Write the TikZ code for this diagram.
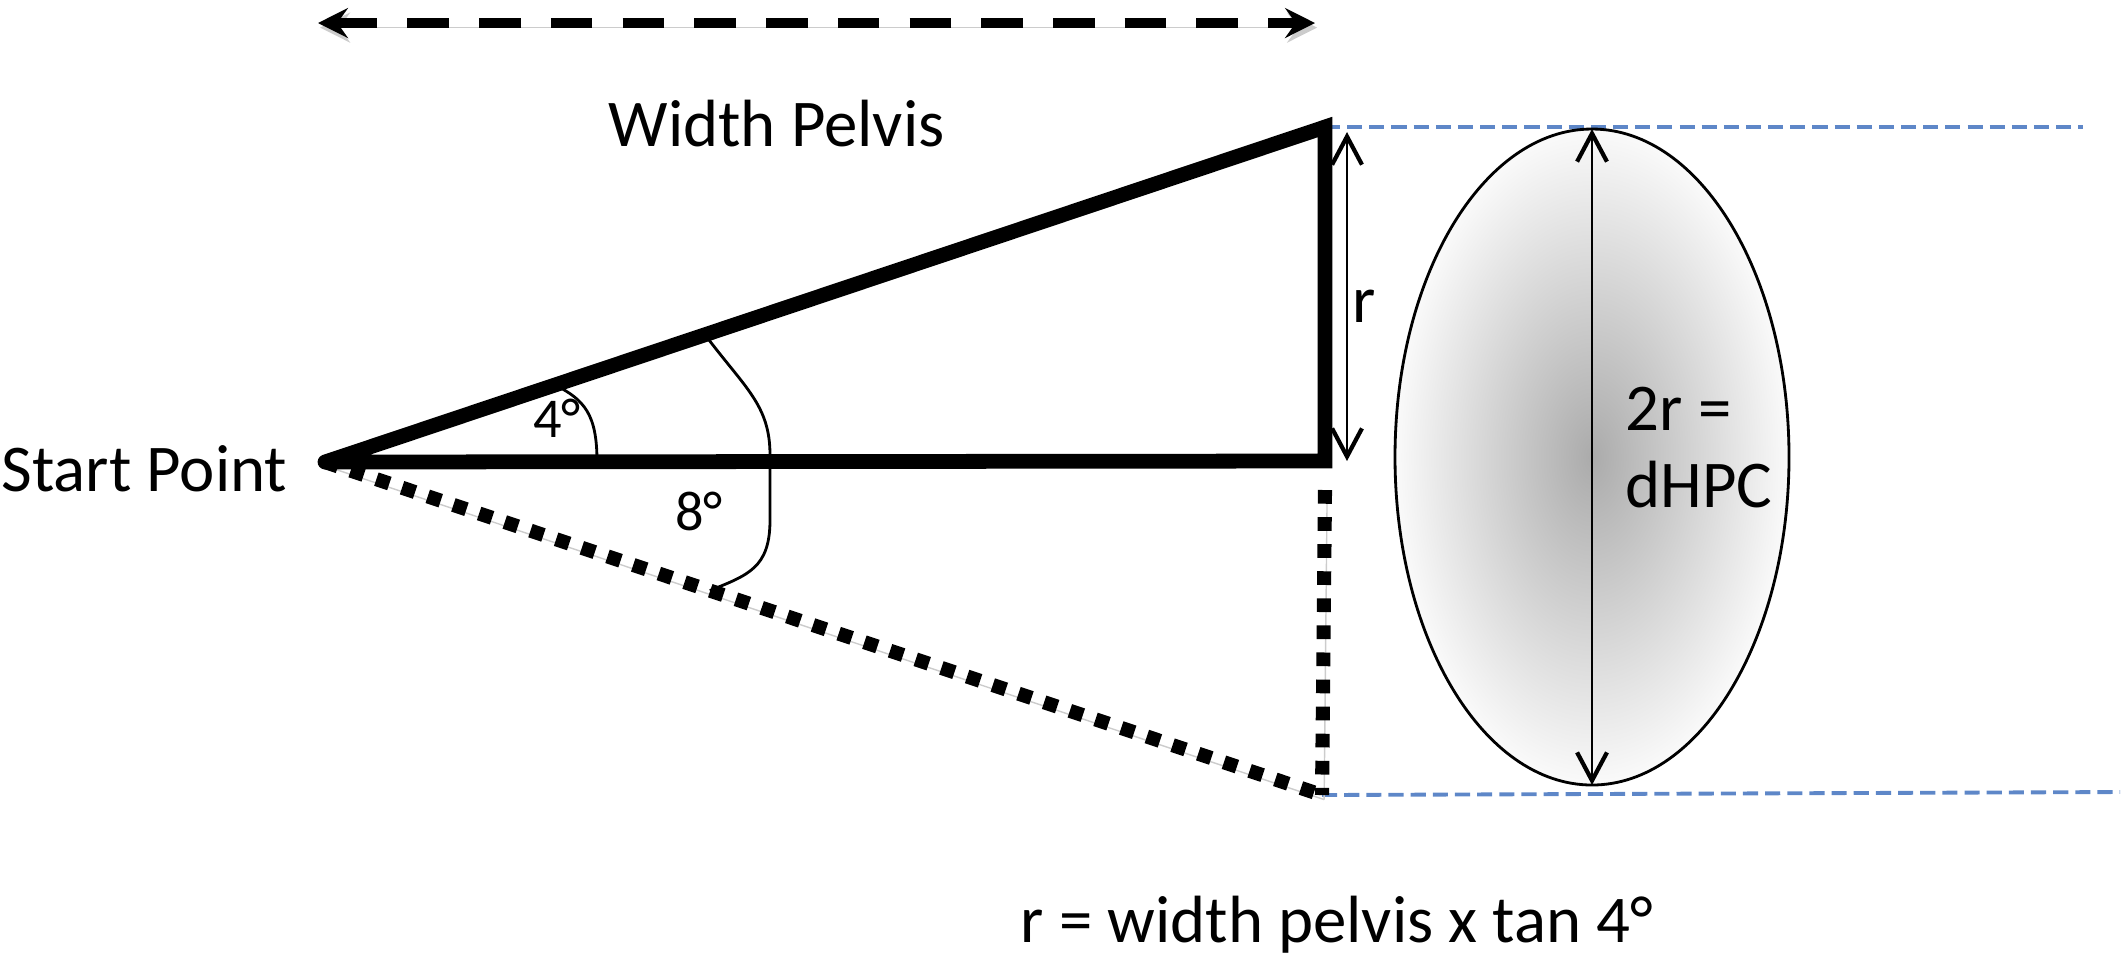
\documentclass[tikz,border=0pt]{standalone}
\usepackage{fontspec}
\setmainfont{Carlito}
\usetikzlibrary{arrows.meta,calc}
\definecolor{guideblue}{RGB}{94,135,200}

\begin{document}
\begin{tikzpicture}[x=0.01cm,y=-0.01cm,
    dropshadow/.style={preaction={draw=black!20,transform canvas={shift={(0.6pt,-1.3pt)}}}},
    heavy/.style={line width=4.2pt,black,dropshadow},
    dotline/.style={line width=4pt,black,dash pattern=on 3.9pt off 3.8pt,dropshadow},
    fineline/.style={line width=0.8pt,black},
    guide/.style={line width=1.1pt,guideblue,dash pattern=on 4.3pt off 2pt},
    barbs/.style={{Straight Barb[length=8pt,width=8.5pt,line width=1.2pt]}-{Straight Barb[length=8pt,width=8.5pt,line width=1.2pt]}},
    widtharrow/.style={line width=3.1pt,black,dash pattern=on 11.8pt off 8.6pt,dropshadow,
        {Stealth[length=8.5pt,width=8.5pt,inset=3pt]}-{Stealth[length=8.5pt,width=8.5pt,inset=3pt]}},
    txt/.style={font=\fontsize{19}{23}\selectfont,inner sep=0pt},
    angletxt/.style={font=\fontsize{16}{19}\selectfont,inner sep=0pt}]
    \useasboundingbox (0,0) rectangle (2128,956);

    \coordinate (start) at (325,462);
    \coordinate (top) at (1325,127);
    \coordinate (corner) at (1325,461);
    \coordinate (dotstart) at (1325,490);
    \coordinate (low) at (1322,795);
    \coordinate (hpctop) at (1592,129);
    \coordinate (hpcbot) at (1592,785);
    \coordinate (hpcc) at (1592,457);
    \coordinate (guidetop) at (2083,127);
    \coordinate (guidebot) at (2120,792);
    \coordinate (rtop) at (1347,132);
    \coordinate (rbot) at (1347,461);
    \coordinate (wleft) at (318,23);
    \coordinate (wright) at (1315,23);

    % guides
    \draw[guide] (top) -- (guidetop);
    \draw[guide] (low) -- (guidebot);

    % head
    \draw[fineline,inner color=black!33,outer color=black!2] (hpcc) ellipse [x radius=197, y radius=328];
    \draw[fineline,barbs] (hpctop) -- (hpcbot);
    \draw[fineline,barbs] (rtop) -- (rbot);

    % width of the pelvis
    \draw[widtharrow] (wleft) -- (wright);

    % triangles
    \draw[dotline] (start) -- (low);
    \draw[dotline] (dotstart) -- (low);
    \draw[heavy,line cap=round,line join=miter] (start) -- (top) -- (corner) -- (start);

    % angles
    \coordinate (arcfoura) at ($(start)!0.23!(top)$);
    \coordinate (arcfourb) at ($(start)!0.272!(corner)$);
    \coordinate (arceighta) at ($(start)!0.38!(top)$);
    \coordinate (arceightb) at ($(start)!0.386!(low)$);
    \draw[fineline] (arcfoura) .. controls (585,400) and (597,415) .. (arcfourb);
    \draw[fineline] (arceighta) .. controls (745,388) and (770,405) .. (770,455) -- (770,520)
        .. controls (770,568) and (748,575) .. (arceightb);

    \node[txt,anchor=base west] (startlabel) at (1,491) {Start Point};
    \node[txt,anchor=base west] (widthlabel) at (608,146) {Width Pelvis};
    \node[angletxt,anchor=base] (fourdeg) at (557,437) {4°};
    \node[angletxt,anchor=base] (eightdeg) at (699,530) {8°};
    \node[txt,anchor=base] (rlabel) at (1364,322) {r};
    \node[txt,anchor=base west] (hpcone) at (1625,430) {2r =};
    \node[txt,anchor=base west] (hpctwo) at (1625,507) {dHPC};
    \node[txt,anchor=base west] (formula) at (1020,942) {r = width pelvis x tan 4°};
\end{tikzpicture}
\end{document}
